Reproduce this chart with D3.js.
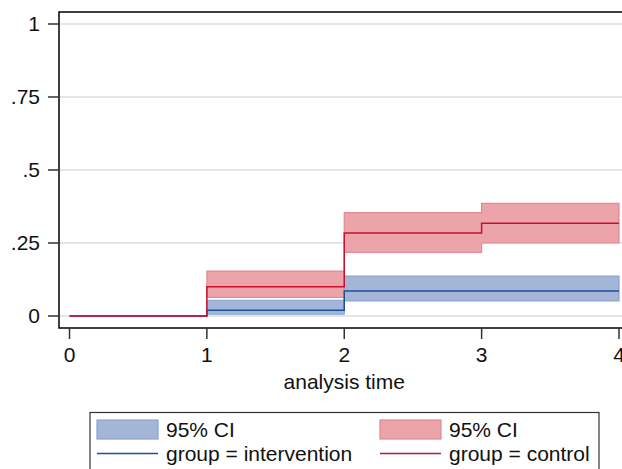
<!DOCTYPE html>
<html lang="en">
<head>
    <meta charset="UTF-8">
    <title>Cumulative failure</title>
    <style>
        body { margin: 0; background: #fff; }
        svg text { font-family: "Liberation Sans", Arial, sans-serif; font-size: 21px; fill: #111; }
    </style>
    <script src="https://d3js.org/d3.v7.min.js"></script>
</head>
<body>
    <svg id="chart" width="622" height="469"></svg>
    <script>
        // step start times
        const times = [0, 1, 2, 3, 4];
        const yTicks = [0, 0.25, 0.5, 0.75, 1];
        const yTickLabels = ["0", ".25", ".5", ".75", "1"];

        // estimates at each step (last value repeated to reach t = 4)
        const intervention = [0, 0.02, 0.086, 0.086, 0.086];
        const interventionLo = [0, 0.006, 0.052, 0.052, 0.052];
        const interventionHi = [0, 0.054, 0.137, 0.137, 0.137];

        const control = [0, 0.10, 0.284, 0.318, 0.318];
        const controlLo = [0, 0.064, 0.218, 0.25, 0.25];
        const controlHi = [0, 0.154, 0.354, 0.386, 0.386];

        const svg = d3.select("#chart");

        const x = d3.scaleLinear().domain([0, 4]).range([69.5, 619]);
        const y = d3.scaleLinear().domain([0, 1]).range([316, 24]);

        const frame = { left: 59, top: 12, bottom: 328, right: 640 };

        // gridlines
        svg.append("g")
            .selectAll("line")
            .data(yTicks)
            .enter().append("line")
            .attr("x1", frame.left).attr("x2", frame.right)
            .attr("y1", d => y(d)).attr("y2", d => y(d))
            .attr("stroke", "#dcdcdc")
            .attr("stroke-width", 1.5);

        // CI bands, drawn from t = 1
        function band(lo, hi) {
            return times.map((t, i) => ({ t: t, lo: lo[i], hi: hi[i] })).slice(1);
        }
        const area = d3.area()
            .curve(d3.curveStepAfter)
            .x(d => x(d.t))
            .y0(d => y(d.lo))
            .y1(d => y(d.hi));

        svg.append("path")
            .attr("d", area(band(interventionLo, interventionHi)))
            .attr("fill", "#a4b6d7")
            .attr("stroke", "#8ba2cd")
            .attr("stroke-width", 1.2);

        svg.append("path")
            .attr("d", area(band(controlLo, controlHi)))
            .attr("fill", "#eba4a9")
            .attr("stroke", "#e18a93")
            .attr("stroke-width", 1.2);

        // step lines
        const line = d3.line()
            .curve(d3.curveStepAfter)
            .x(d => x(d[0]))
            .y(d => y(d[1]));

        svg.append("path")
            .attr("d", line(times.map((t, i) => [t, intervention[i]])))
            .attr("fill", "none")
            .attr("stroke", "#1c4f9e")
            .attr("stroke-width", 1.5);

        svg.append("path")
            .attr("d", line(times.map((t, i) => [t, control[i]])))
            .attr("fill", "none")
            .attr("stroke", "#c8102e")
            .attr("stroke-width", 1.5);

        // plot frame
        svg.append("rect")
            .attr("x", frame.left).attr("y", frame.top)
            .attr("width", frame.right - frame.left)
            .attr("height", frame.bottom - frame.top)
            .attr("fill", "none")
            .attr("stroke", "#000")
            .attr("stroke-width", 1.5);

        // y axis ticks and labels
        const yAxis = svg.append("g");
        yAxis.selectAll("line")
            .data(yTicks)
            .enter().append("line")
            .attr("x1", frame.left - 11).attr("x2", frame.left)
            .attr("y1", d => y(d)).attr("y2", d => y(d))
            .attr("stroke", "#333")
            .attr("stroke-width", 1.5);
        yAxis.selectAll("text")
            .data(yTicks)
            .enter().append("text")
            .attr("x", 40)
            .attr("y", d => y(d) + 7)
            .attr("text-anchor", "end")
            .text((d, i) => yTickLabels[i]);

        // x axis ticks and labels
        const xAxis = svg.append("g");
        xAxis.selectAll("line")
            .data(times)
            .enter().append("line")
            .attr("x1", d => x(d)).attr("x2", d => x(d))
            .attr("y1", frame.bottom).attr("y2", frame.bottom + 11)
            .attr("stroke", "#333")
            .attr("stroke-width", 1.5);
        xAxis.selectAll("text")
            .data(times)
            .enter().append("text")
            .attr("x", d => x(d))
            .attr("y", 362)
            .attr("text-anchor", "middle")
            .text(d => d);

        svg.append("text")
            .attr("x", x(2))
            .attr("y", 389)
            .attr("text-anchor", "middle")
            .text("analysis time");

        // legend
        const legend = svg.append("g");
        legend.append("rect")
            .attr("x", 90).attr("y", 412.5)
            .attr("width", 509).attr("height", 80)
            .attr("fill", "#fff")
            .attr("stroke", "#333")
            .attr("stroke-width", 1.2);

        const legendItems = [
            { x: 97, fill: "#a4b6d7", stroke: "#8ba2cd", line: "#1c4f9e", label: "group = intervention" },
            { x: 380, fill: "#eba4a9", stroke: "#e18a93", line: "#c8102e", label: "group = control" }
        ];
        legendItems.forEach(it => {
            legend.append("rect")
                .attr("x", it.x).attr("y", 420)
                .attr("width", 61).attr("height", 19)
                .attr("fill", it.fill)
                .attr("stroke", it.stroke)
                .attr("stroke-width", 1.2);
            legend.append("text")
                .attr("x", it.x + 69).attr("y", 437)
                .text("95% CI");
            legend.append("line")
                .attr("x1", it.x).attr("x2", it.x + 61)
                .attr("y1", 453.5).attr("y2", 453.5)
                .attr("stroke", it.line)
                .attr("stroke-width", 1.5);
            legend.append("text")
                .attr("x", it.x + 69).attr("y", 461)
                .text(it.label);
        });
    </script>
</body>
</html>
